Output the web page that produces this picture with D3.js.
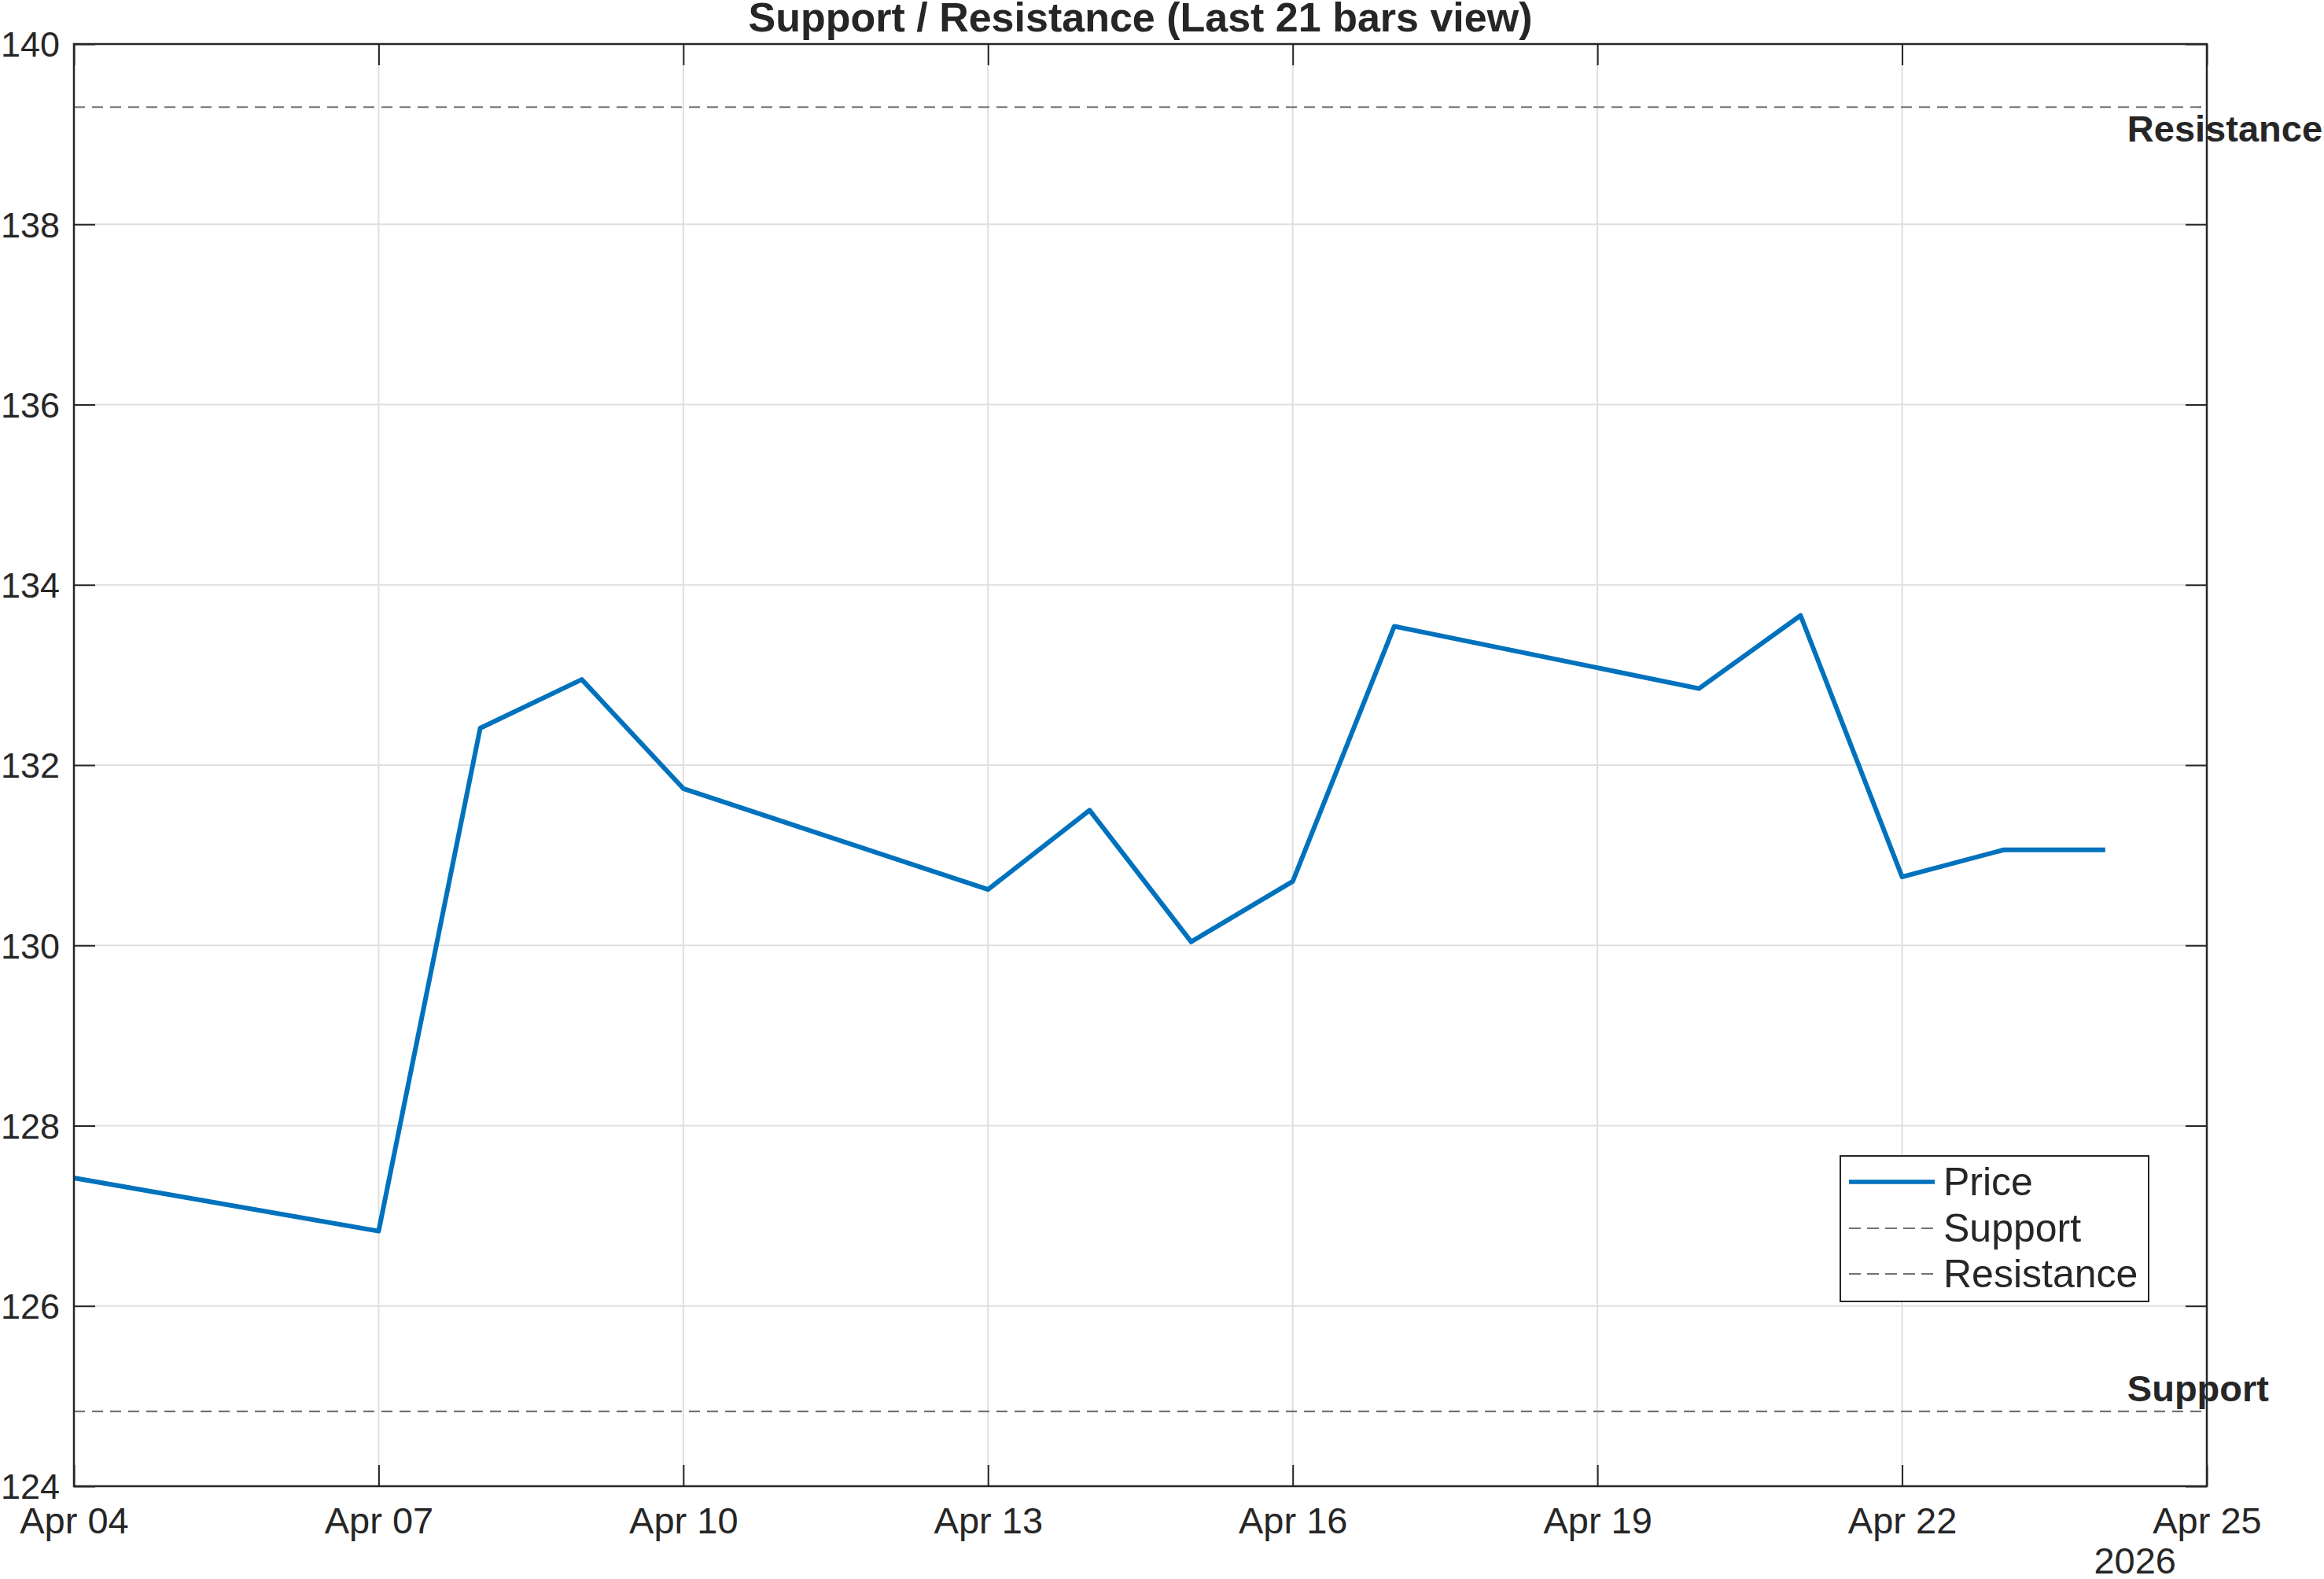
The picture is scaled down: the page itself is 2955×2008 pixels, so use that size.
<!DOCTYPE html>
<html>
<head>
<meta charset="utf-8">
<script src="https://d3js.org/d3.v7.min.js"></script>
<style>
	html, body { margin:0; padding:0; background:#fff; }
	text { font-family: "Liberation Sans", Arial, Helvetica, sans-serif; fill:#262626; }
</style>
</head>
<body>
<div id="chart"></div>
<script>
// 데이터
var dates  = ["2026-04-04","2026-04-07","2026-04-08","2026-04-09","2026-04-10","2026-04-13","2026-04-14",
              "2026-04-15","2026-04-16","2026-04-17","2026-04-20","2026-04-21","2026-04-22","2026-04-23","2026-04-24"];
var prices = [127.42, 126.83, 132.41, 132.95, 131.74, 130.62, 131.50,
              130.04, 130.71, 133.54, 132.85, 133.66, 130.76, 131.06, 131.06];
var supportVal    = 124.83;
var resistanceVal = 139.30;
var xDomain = ["2026-04-04","2026-04-25"];
var xTicks  = ["2026-04-04","2026-04-07","2026-04-10","2026-04-13","2026-04-16","2026-04-19","2026-04-22","2026-04-25"];
var yDomain = [124, 140];
var yTicks  = [124,126,128,130,132,134,136,138,140];
var legendItems = ["Price","Support","Resistance"];
var titleText = "Support / Resistance (Last 21 bars view)";
var yearLabel = "2026";

var W = 2955, H = 2008;
var margin = {top:56, right:149, bottom:118, left:94};
var width = W - margin.left - margin.right,
    height = H - margin.top - margin.bottom;

var parse = d3.utcParse("%Y-%m-%d");
var fmt = d3.utcFormat("%b %d");
var data = dates.map(function(d,i){ return {x:parse(d), y:prices[i]}; });

var x = d3.scaleUtc().domain(xDomain.map(parse)).range([0, width]);
var y = d3.scaleLinear().domain(yDomain).range([height, 0]);

var axisColor = "#262626", gridColor = "#dfdfdf", blue = "#0072BD", dashColor = "#727272";

var svg = d3.select("#chart").append("svg")
	.attr("width", W).attr("height", H)
	.append("g")
	.attr("transform","translate("+margin.left+","+margin.top+")");

// grid
svg.append("g").selectAll("line").data(xTicks.map(parse)).enter().append("line")
	.attr("x1", function(d){return x(d);}).attr("x2", function(d){return x(d);})
	.attr("y1", 0).attr("y2", height)
	.attr("stroke", gridColor).attr("stroke-width", 2);
svg.append("g").selectAll("line").data(yTicks).enter().append("line")
	.attr("x1", 0).attr("x2", width)
	.attr("y1", function(d){return y(d);}).attr("y2", function(d){return y(d);})
	.attr("stroke", gridColor).attr("stroke-width", 2);

// support / resistance
svg.selectAll(".srLine").data([supportVal, resistanceVal]).enter().append("line")
	.attr("class","srLine")
	.attr("x1", 0).attr("x2", width)
	.attr("y1", function(d){return y(d);}).attr("y2", function(d){return y(d);})
	.attr("stroke", dashColor).attr("stroke-width", 2.2)
	.attr("stroke-dasharray", "14,9");

// price line
var line = d3.line().x(function(d){return x(d.x);}).y(function(d){return y(d.y);});
svg.append("path").datum(data)
	.attr("fill","none").attr("stroke", blue)
	.attr("stroke-width", 6).attr("stroke-linejoin","round")
	.attr("d", line);

// axes (box + inner ticks on 4 sides)
var tk = 27;
var xAxisB = d3.axisBottom(x).tickValues(xTicks.map(parse)).tickFormat(fmt).tickSizeInner(-tk).tickSizeOuter(0);
var xAxisT = d3.axisTop(x).tickValues(xTicks.map(parse)).tickFormat("").tickSizeInner(-tk).tickSizeOuter(0);
var yAxisL = d3.axisLeft(y).tickValues(yTicks).tickSizeInner(-tk).tickSizeOuter(0).tickPadding(18);
var yAxisR = d3.axisRight(y).tickValues(yTicks).tickFormat("").tickSizeInner(-tk).tickSizeOuter(0);

function styleAxis(g){
	g.select(".domain").remove();
	g.selectAll(".tick line").attr("stroke", axisColor).attr("stroke-width", 2);
	g.selectAll(".tick text").attr("fill", axisColor).style("font-size","47px")
		.style("font-family","'Liberation Sans', Arial, sans-serif");
}
svg.append("g").attr("transform","translate(0,"+height+")").call(xAxisB).call(styleAxis)
	.selectAll(".tick text").attr("dy", null).attr("y", 60);
svg.append("g").call(xAxisT).call(styleAxis);
svg.append("g").call(yAxisL).call(styleAxis).selectAll(".tick text")
	.attr("dy","0.35em").style("font-size","45px");
svg.append("g").attr("transform","translate("+width+",0)").call(yAxisR).call(styleAxis);

svg.append("rect")
	.attr("x",0).attr("y",0).attr("width",width).attr("height",height)
	.attr("fill","none").attr("stroke",axisColor).attr("stroke-width",2.5);

// year label
svg.append("text")
	.attr("x", width - 39).attr("y", height + 111)
	.attr("text-anchor","end").style("font-size","47px")
	.text(yearLabel);

// title
svg.append("text")
	.attr("x", width/2).attr("y", -16)
	.attr("text-anchor","middle").style("font-size","52px").style("font-weight","bold")
	.text(titleText);

// S/R labels
var lastX = x(data[data.length-1].x) + 28;
svg.append("text")
	.attr("x", lastX).attr("y", y(resistanceVal) + 44)
	.style("font-size","47px").style("font-weight","bold")
	.text("Resistance");
svg.append("text")
	.attr("x", lastX).attr("y", y(supportVal) - 13)
	.style("font-size","47px").style("font-weight","bold")
	.text("Support");

// legend
var lg = svg.append("g").attr("transform","translate("+(width - 466)+","+(height - 420)+")");
lg.append("rect").attr("x",0).attr("y",0).attr("width",392).attr("height",185)
	.attr("fill","#fff").attr("stroke",axisColor).attr("stroke-width",2);
var rowY = [33, 92, 150];
lg.selectAll(".lgLine").data(legendItems).enter().append("line")
	.attr("x1", 11).attr("x2", 120)
	.attr("y1", function(d,i){return rowY[i];}).attr("y2", function(d,i){return rowY[i];})
	.attr("stroke", function(d,i){return i==0 ? blue : dashColor;})
	.attr("stroke-width", function(d,i){return i==0 ? 5.5 : 2.2;})
	.attr("stroke-dasharray", function(d,i){return i==0 ? null : "15,8";});
lg.selectAll(".lgText").data(legendItems).enter().append("text")
	.attr("x", 131).attr("y", function(d,i){return rowY[i] + 17;})
	.style("font-size","50px")
	.text(function(d){return d;});
</script>
</body>
</html>
